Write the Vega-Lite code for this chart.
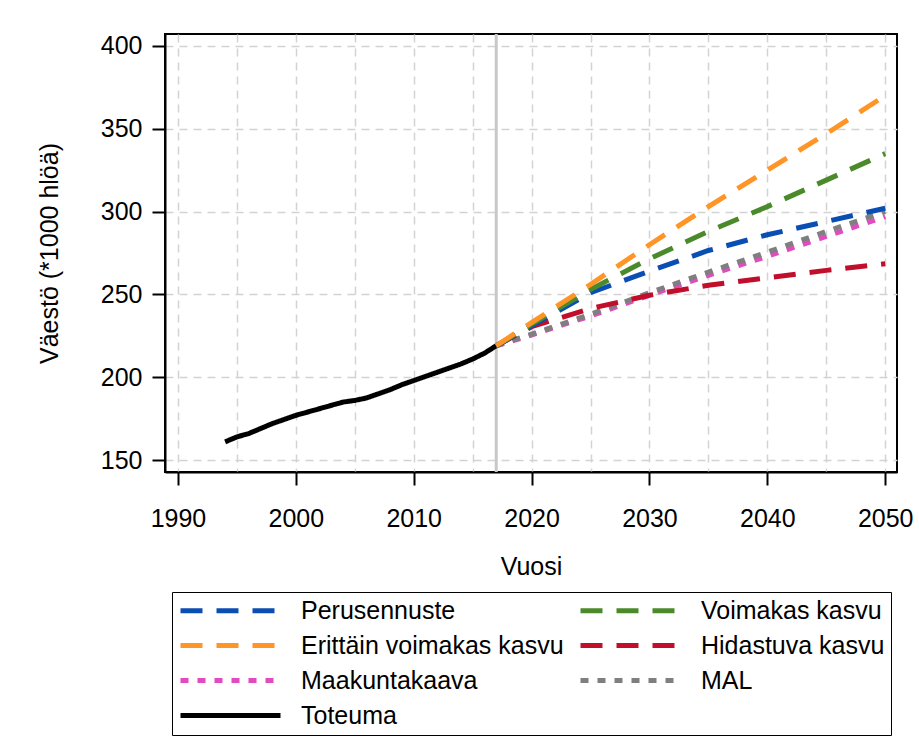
{
  "$schema": "https://vega.github.io/schema/vega-lite/v6.json",
  "width": 732,
  "height": 438,
  "autosize": {"type": "none"},
  "padding": {"left": 165, "top": 34, "right": 22, "bottom": 270},
  "background": "white",
  "config": {
    "font": "Liberation Sans",
    "view": {"stroke": "#000000", "strokeWidth": 2},
    "axis": {
      "labelFont": "Liberation Sans",
      "labelFontSize": 25,
      "labelColor": "#000000",
      "titleFont": "Liberation Sans",
      "titleFontSize": 25,
      "titleFontWeight": "normal",
      "titleColor": "#000000",
      "tickColor": "#000000",
      "tickWidth": 2,
      "tickSize": 13,
      "domainColor": "#000000",
      "domainWidth": 2,
      "gridColor": "#d3d3d3",
      "gridDash": [8, 6],
      "gridWidth": 1.5
    },
    "legend": {
      "orient": "none",
      "legendX": 7,
      "legendY": 558,
      "columns": 2,
      "title": null,
      "symbolType": "M-1,0L9,0",
      "symbolSize": 400,
      "symbolStrokeWidth": 5,
      "labelFont": "Liberation Sans",
      "labelFontSize": 25,
      "labelColor": "#000000",
      "labelLimit": 500,
      "labelOffset": 98,
      "strokeColor": "#000000",
      "padding": 6,
      "rowPadding": 9,
      "columnPadding": 6
    }
  },
  "datasets": {
    "marker": [{"year": 2017}],
    "series": [
      {"series": "Toteuma", "year": 1994, "value": 161},
      {"series": "Toteuma", "year": 1995, "value": 164},
      {"series": "Toteuma", "year": 1996, "value": 166},
      {"series": "Toteuma", "year": 1997, "value": 169},
      {"series": "Toteuma", "year": 1998, "value": 172},
      {"series": "Toteuma", "year": 1999, "value": 174.5},
      {"series": "Toteuma", "year": 2000, "value": 177},
      {"series": "Toteuma", "year": 2001, "value": 179},
      {"series": "Toteuma", "year": 2002, "value": 181},
      {"series": "Toteuma", "year": 2003, "value": 183},
      {"series": "Toteuma", "year": 2004, "value": 185},
      {"series": "Toteuma", "year": 2005, "value": 186},
      {"series": "Toteuma", "year": 2006, "value": 187.5},
      {"series": "Toteuma", "year": 2007, "value": 190},
      {"series": "Toteuma", "year": 2008, "value": 192.5},
      {"series": "Toteuma", "year": 2009, "value": 195.5},
      {"series": "Toteuma", "year": 2010, "value": 198},
      {"series": "Toteuma", "year": 2011, "value": 200.5},
      {"series": "Toteuma", "year": 2012, "value": 203},
      {"series": "Toteuma", "year": 2013, "value": 205.5},
      {"series": "Toteuma", "year": 2014, "value": 208},
      {"series": "Toteuma", "year": 2015, "value": 211},
      {"series": "Toteuma", "year": 2016, "value": 214.5},
      {"series": "Toteuma", "year": 2017, "value": 219},

      {"series": "Maakuntakaava", "year": 2017, "value": 219},
      {"series": "Maakuntakaava", "year": 2020, "value": 225.5},
      {"series": "Maakuntakaava", "year": 2025, "value": 237},
      {"series": "Maakuntakaava", "year": 2030, "value": 249.5},
      {"series": "Maakuntakaava", "year": 2035, "value": 261.5},
      {"series": "Maakuntakaava", "year": 2040, "value": 273},
      {"series": "Maakuntakaava", "year": 2045, "value": 285},
      {"series": "Maakuntakaava", "year": 2050, "value": 297},

      {"series": "MAL", "year": 2017, "value": 219},
      {"series": "MAL", "year": 2020, "value": 226},
      {"series": "MAL", "year": 2025, "value": 238},
      {"series": "MAL", "year": 2030, "value": 251},
      {"series": "MAL", "year": 2035, "value": 263.5},
      {"series": "MAL", "year": 2040, "value": 275.5},
      {"series": "MAL", "year": 2045, "value": 288},
      {"series": "MAL", "year": 2050, "value": 300},

      {"series": "Hidastuva kasvu", "year": 2017, "value": 219},
      {"series": "Hidastuva kasvu", "year": 2020, "value": 230.5},
      {"series": "Hidastuva kasvu", "year": 2025, "value": 241.5},
      {"series": "Hidastuva kasvu", "year": 2030, "value": 249.5},
      {"series": "Hidastuva kasvu", "year": 2035, "value": 255.5},
      {"series": "Hidastuva kasvu", "year": 2040, "value": 260},
      {"series": "Hidastuva kasvu", "year": 2045, "value": 264.5},
      {"series": "Hidastuva kasvu", "year": 2050, "value": 268.5},

      {"series": "Perusennuste", "year": 2017, "value": 219},
      {"series": "Perusennuste", "year": 2020, "value": 231},
      {"series": "Perusennuste", "year": 2025, "value": 251},
      {"series": "Perusennuste", "year": 2030, "value": 264},
      {"series": "Perusennuste", "year": 2035, "value": 276.5},
      {"series": "Perusennuste", "year": 2040, "value": 286},
      {"series": "Perusennuste", "year": 2045, "value": 294},
      {"series": "Perusennuste", "year": 2050, "value": 302},

      {"series": "Voimakas kasvu", "year": 2017, "value": 219},
      {"series": "Voimakas kasvu", "year": 2020, "value": 232},
      {"series": "Voimakas kasvu", "year": 2025, "value": 253},
      {"series": "Voimakas kasvu", "year": 2030, "value": 271.5},
      {"series": "Voimakas kasvu", "year": 2035, "value": 288},
      {"series": "Voimakas kasvu", "year": 2040, "value": 303},
      {"series": "Voimakas kasvu", "year": 2045, "value": 319},
      {"series": "Voimakas kasvu", "year": 2050, "value": 335},

      {"series": "Erittäin voimakas kasvu", "year": 2017, "value": 219},
      {"series": "Erittäin voimakas kasvu", "year": 2020, "value": 233},
      {"series": "Erittäin voimakas kasvu", "year": 2025, "value": 256},
      {"series": "Erittäin voimakas kasvu", "year": 2030, "value": 280},
      {"series": "Erittäin voimakas kasvu", "year": 2035, "value": 303},
      {"series": "Erittäin voimakas kasvu", "year": 2040, "value": 325},
      {"series": "Erittäin voimakas kasvu", "year": 2045, "value": 347},
      {"series": "Erittäin voimakas kasvu", "year": 2050, "value": 370}
    ]
  },
  "encoding": {
    "x": {
      "field": "year",
      "type": "quantitative",
      "title": "Vuosi",
      "scale": {"domain": [1988.9, 2051], "nice": false, "zero": false},
      "axis": {
        "values": [1990, 1995, 2000, 2005, 2010, 2015, 2020, 2025, 2030, 2035, 2040, 2045, 2050],
        "labelExpr": "datum.value % 10 === 0 ? datum.label : ''",
        "format": "d",
        "tickOpacity": {"condition": {"test": "datum.value % 10 === 0", "value": 1}, "value": 0},
        "labelOverlap": false,
        "labelFlush": false,
        "labelBound": false,
        "labelPadding": 21,
        "titlePadding": 23,
        "grid": true
      }
    }
  },
  "layer": [
    {
      "data": {"name": "marker"},
      "mark": {"type": "rule", "color": "#c8c8c8", "strokeWidth": 3}
    },
    {
      "data": {"name": "series"},
      "mark": {"type": "line", "strokeWidth": 5, "strokeCap": "butt"},
      "encoding": {
        "y": {
          "field": "value",
          "type": "quantitative",
          "title": "Väestö (*1000 hlöä)",
          "scale": {"domain": [142.8, 407.2], "nice": false, "zero": false},
          "axis": {
            "values": [150, 200, 250, 300, 350, 400],
            "labelPadding": 10,
            "titlePadding": 38,
            "grid": true
          }
        },
        "color": {
          "field": "series",
          "type": "nominal",
          "scale": {
            "domain": ["Perusennuste", "Erittäin voimakas kasvu", "Maakuntakaava", "Toteuma", "Voimakas kasvu", "Hidastuva kasvu", "MAL"],
            "range": ["#0B4EB3", "#FF9526", "#E04BC0", "#000000", "#4B8A2B", "#C10E2B", "#7F7F7F"]
          },
          "legend": {}
        },
        "strokeDash": {
          "field": "series",
          "type": "nominal",
          "scale": {
            "domain": ["Perusennuste", "Erittäin voimakas kasvu", "Maakuntakaava", "Toteuma", "Voimakas kasvu", "Hidastuva kasvu", "MAL"],
            "range": [[22, 14], [22, 14], [8, 9], [1, 0], [22, 14], [22, 14], [8, 9]]
          },
          "legend": {}
        }
      }
    }
  ]
}
